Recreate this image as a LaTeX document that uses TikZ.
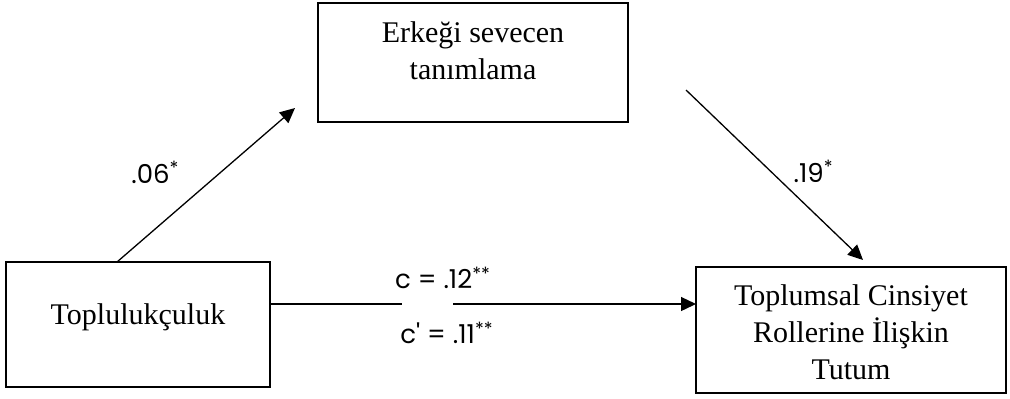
\documentclass[tikz,border=0pt]{standalone}
\usepackage{fontspec}
\setmainfont{Liberation Serif}
\newfontfamily\coeffont{Poppins}
\usetikzlibrary{arrows.meta,positioning,calc}
\tikzset{var node/.style={draw,rectangle,line width=0.9pt,inner sep=0pt,outer sep=0pt},
  coef/.style={font=\coeffont\fontsize{13}{15}\selectfont,inner sep=0pt},
  path line/.style={line width=0.65pt,-{Triangle[length=7.5pt,width=7pt]}},}
% box text: width, height, first baseline, text
\newcommand{\vartext}[4]{\parbox[c][#2][t]{#1}{\centering\fontsize{15}{18.5}\selectfont\rule{0pt}{#3}#4}}

\begin{document}
\begin{tikzpicture}[x=0.5pt,y=-0.5pt]
    \useasboundingbox (0,0) rectangle (1010,398);
    \node[var node] (coll) at (138,324.5) {\vartext{132pt}{62.5pt}{31pt}{Toplulukçuluk}};
    \node[var node] (erk) [above right = 70pt and 24pt of coll] {\vartext{155pt}{59.5pt}{19.5pt}{Erkeği sevecen\\tanımlama}};
    \node[var node] (tutum) [below right = 72.5pt and 34pt of erk] {\vartext{155pt}{63pt}{19pt}{Toplumsal Cinsiyet\\Rollerine İlişkin\\Tutum}};

    \coordinate (aEnd) at (295,108);
    \coordinate (bStart) at (686,90);
    \coordinate (bEnd) at (863,260);
    \coordinate (gapL) at (402,304);
    \coordinate (gapR) at (453,304);

    \draw[path line] ($(coll.north)+(-21,0)$) -- (aEnd)
        node[coef, pos=0.58, left=20pt] {.06\textsuperscript{*}};
    \draw[path line] (bStart) -- (bEnd)
        node[coef, pos=0.48, right=11pt] {.19\textsuperscript{*}};
    \draw[line width=0.65pt] (coll.east |- gapL) -- (gapL);
    \draw[path line] (gapR) -- (tutum.west |- gapR);
    \node[coef] (cTot) at (443,278) {c = .12\textsuperscript{**}};
    \node[coef] (cDir) at (447,333) {c\textquotesingle{} = .11\textsuperscript{**}};
\end{tikzpicture}
\end{document}
